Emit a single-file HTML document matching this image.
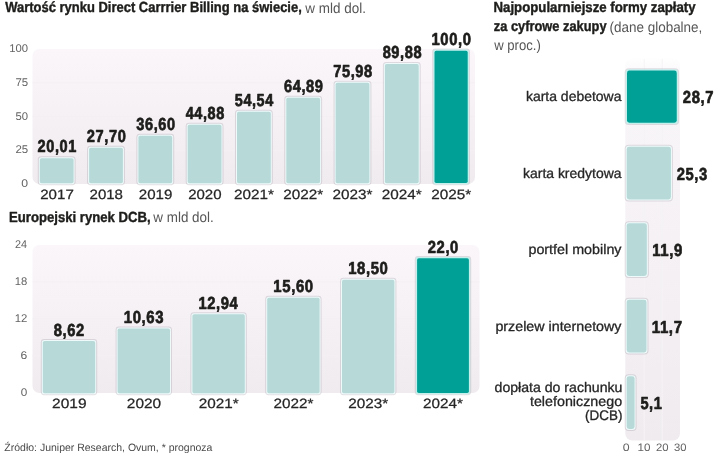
<!DOCTYPE html>
<html lang="pl"><head><meta charset="utf-8"><title>Direct Carrier Billing</title>
<style>
html,body{margin:0;padding:0;background:#fff;}
body{width:720px;height:453px;overflow:hidden;}
svg{display:block;font-family:"Liberation Sans",sans-serif;}
text{text-rendering:geometricPrecision;}
</style></head><body>
<svg width="720" height="453" viewBox="0 0 720 453">
<rect width="720" height="453" fill="#ffffff"/>
<defs><linearGradient id="g1" x1="0" y1="0" x2="0" y2="1"><stop offset="0" stop-color="#faf6fa"/><stop offset="1" stop-color="#f0ebef"/></linearGradient><linearGradient id="g3" x1="0" y1="0" x2="0" y2="1"><stop offset="0" stop-color="#ffffff"/><stop offset="0.05" stop-color="#f9f6f9"/><stop offset="1" stop-color="#f0ebef"/></linearGradient></defs>
<text transform="translate(5.17 12.20) scale(0.8891 1)" font-size="14.6" font-weight="bold" fill="#1d1d1b" stroke="#1d1d1b" stroke-width="0.4" stroke-linejoin="round">Wartość rynku Direct Carrrier Billing na świecie,</text>
<text transform="translate(305.32 12.60) scale(0.9350 1)" font-size="14.4" fill="#565656">w mld dol.</text>
<text transform="translate(9.00 221.60) scale(0.9002 1)" font-size="14.6" font-weight="bold" fill="#1d1d1b" stroke="#1d1d1b" stroke-width="0.4" stroke-linejoin="round">Europejski rynek DCB,</text>
<text transform="translate(153.32 222.00) scale(0.9319 1)" font-size="14.4" fill="#565656">w mld dol.</text>
<text transform="translate(493.50 12.20) scale(0.9062 1)" font-size="14.6" font-weight="bold" fill="#1d1d1b" stroke="#1d1d1b" stroke-width="0.4" stroke-linejoin="round">Najpopularniejsze formy zapłaty</text>
<text transform="translate(493.86 31.10) scale(0.8793 1)" font-size="14.6" font-weight="bold" fill="#1d1d1b" stroke="#1d1d1b" stroke-width="0.4" stroke-linejoin="round">za cyfrowe zakupy</text>
<text transform="translate(609.46 31.50) scale(0.9362 1)" font-size="14.4" fill="#565656">(dane globalne,</text>
<text transform="translate(494.22 50.30) scale(0.9099 1)" font-size="14.4" fill="#565656">w proc.)</text>
<rect x="32.5" y="49.0" width="442.5" height="135.0" rx="7" fill="url(#g1)"/>
<rect x="32.5" y="149.75" width="442.5" height="1" fill="#f3eff3"/>
<rect x="32.5" y="116.00" width="442.5" height="1" fill="#f3eff3"/>
<rect x="32.5" y="82.25" width="442.5" height="1" fill="#f3eff3"/>
<text transform="translate(21.37 187.00) scale(1.0927 1)" font-size="11.2" fill="#636363">0</text>
<text transform="translate(15.42 153.25) scale(1.0241 1)" font-size="11.2" fill="#636363">25</text>
<text transform="translate(15.55 119.50) scale(1.0111 1)" font-size="11.2" fill="#636363">50</text>
<text transform="translate(15.41 85.75) scale(1.0251 1)" font-size="11.2" fill="#636363">75</text>
<text transform="translate(9.29 52.00) scale(1.0088 1)" font-size="11.2" fill="#636363">100</text>
<rect x="37.80" y="156.20" width="37.80" height="29.00" rx="3.4" fill="#6e6a76" opacity="0.2"/>
<rect x="38.80" y="157.20" width="35.80" height="27.00" rx="2.5" fill="#eefafa"/>
<rect x="39.80" y="158.20" width="33.80" height="25.00" rx="1.7" fill="#b7dad9"/>
<text transform="translate(37.54 152.45) scale(0.8378 1)" font-size="17.4" font-weight="bold" fill="#1d1d1b" letter-spacing="0.7" stroke="#1d1d1b" stroke-width="0.7" stroke-linejoin="round">20,01</text>
<text transform="translate(40.23 198.57) scale(1.1167 1)" font-size="13.5" fill="#262626" stroke="#262626" stroke-width="0.25" stroke-linejoin="round">2017</text>
<rect x="87.10" y="145.84" width="37.80" height="39.36" rx="3.4" fill="#6e6a76" opacity="0.2"/>
<rect x="88.10" y="146.84" width="35.80" height="37.36" rx="2.5" fill="#eefafa"/>
<rect x="89.10" y="147.84" width="33.80" height="35.36" rx="1.7" fill="#b7dad9"/>
<text transform="translate(86.84 142.09) scale(0.8420 1)" font-size="17.4" font-weight="bold" fill="#1d1d1b" letter-spacing="0.7" stroke="#1d1d1b" stroke-width="0.7" stroke-linejoin="round">27,70</text>
<text transform="translate(89.53 198.57) scale(1.1132 1)" font-size="13.5" fill="#262626" stroke="#262626" stroke-width="0.25" stroke-linejoin="round">2018</text>
<rect x="136.40" y="133.85" width="37.80" height="51.35" rx="3.4" fill="#6e6a76" opacity="0.2"/>
<rect x="137.40" y="134.85" width="35.80" height="49.35" rx="2.5" fill="#eefafa"/>
<rect x="138.40" y="135.85" width="33.80" height="47.35" rx="1.7" fill="#b7dad9"/>
<text transform="translate(136.31 130.10) scale(0.8382 1)" font-size="17.4" font-weight="bold" fill="#1d1d1b" letter-spacing="0.7" stroke="#1d1d1b" stroke-width="0.7" stroke-linejoin="round">36,60</text>
<text transform="translate(138.83 198.57) scale(1.1152 1)" font-size="13.5" fill="#262626" stroke="#262626" stroke-width="0.25" stroke-linejoin="round">2019</text>
<rect x="185.70" y="122.70" width="37.80" height="62.50" rx="3.4" fill="#6e6a76" opacity="0.2"/>
<rect x="186.70" y="123.70" width="35.80" height="60.50" rx="2.5" fill="#eefafa"/>
<rect x="187.70" y="124.70" width="33.80" height="58.50" rx="1.7" fill="#b7dad9"/>
<text transform="translate(185.72 118.95) scale(0.8325 1)" font-size="17.4" font-weight="bold" fill="#1d1d1b" letter-spacing="0.7" stroke="#1d1d1b" stroke-width="0.7" stroke-linejoin="round">44,88</text>
<text transform="translate(188.13 198.57) scale(1.1109 1)" font-size="13.5" fill="#262626" stroke="#262626" stroke-width="0.25" stroke-linejoin="round">2020</text>
<rect x="235.00" y="109.68" width="37.80" height="75.52" rx="3.4" fill="#6e6a76" opacity="0.2"/>
<rect x="236.00" y="110.68" width="35.80" height="73.52" rx="2.5" fill="#eefafa"/>
<rect x="237.00" y="111.68" width="33.80" height="71.52" rx="1.7" fill="#b7dad9"/>
<text transform="translate(234.80 105.93) scale(0.8295 1)" font-size="17.4" font-weight="bold" fill="#1d1d1b" letter-spacing="0.7" stroke="#1d1d1b" stroke-width="0.7" stroke-linejoin="round">54,54</text>
<text transform="translate(233.97 198.57) scale(1.1314 1)" font-size="13.5" fill="#262626" stroke="#262626" stroke-width="0.25" stroke-linejoin="round">2021*</text>
<rect x="284.30" y="95.74" width="37.80" height="89.46" rx="3.4" fill="#6e6a76" opacity="0.2"/>
<rect x="285.30" y="96.74" width="35.80" height="87.46" rx="2.5" fill="#eefafa"/>
<rect x="286.30" y="97.74" width="33.80" height="85.46" rx="1.7" fill="#b7dad9"/>
<text transform="translate(284.01 91.99) scale(0.8414 1)" font-size="17.4" font-weight="bold" fill="#1d1d1b" letter-spacing="0.7" stroke="#1d1d1b" stroke-width="0.7" stroke-linejoin="round">64,89</text>
<text transform="translate(283.27 198.57) scale(1.1314 1)" font-size="13.5" fill="#262626" stroke="#262626" stroke-width="0.25" stroke-linejoin="round">2022*</text>
<rect x="333.60" y="80.80" width="37.80" height="104.40" rx="3.4" fill="#6e6a76" opacity="0.2"/>
<rect x="334.60" y="81.80" width="35.80" height="102.40" rx="2.5" fill="#eefafa"/>
<rect x="335.60" y="82.80" width="33.80" height="100.40" rx="1.7" fill="#b7dad9"/>
<text transform="translate(333.22 77.05) scale(0.8414 1)" font-size="17.4" font-weight="bold" fill="#1d1d1b" letter-spacing="0.7" stroke="#1d1d1b" stroke-width="0.7" stroke-linejoin="round">75,98</text>
<text transform="translate(332.57 198.57) scale(1.1314 1)" font-size="13.5" fill="#262626" stroke="#262626" stroke-width="0.25" stroke-linejoin="round">2023*</text>
<rect x="382.90" y="62.08" width="37.80" height="123.12" rx="3.4" fill="#6e6a76" opacity="0.2"/>
<rect x="383.90" y="63.08" width="35.80" height="121.12" rx="2.5" fill="#eefafa"/>
<rect x="384.90" y="64.08" width="33.80" height="119.12" rx="1.7" fill="#b7dad9"/>
<text transform="translate(382.68 58.33) scale(0.8378 1)" font-size="17.4" font-weight="bold" fill="#1d1d1b" letter-spacing="0.7" stroke="#1d1d1b" stroke-width="0.7" stroke-linejoin="round">89,88</text>
<text transform="translate(381.87 198.57) scale(1.1314 1)" font-size="13.5" fill="#262626" stroke="#262626" stroke-width="0.25" stroke-linejoin="round">2024*</text>
<rect x="432.20" y="48.45" width="37.80" height="136.75" rx="3.4" fill="#6e6a76" opacity="0.2"/>
<rect x="433.20" y="49.45" width="35.80" height="134.75" rx="2.5" fill="#c4f0ec"/>
<rect x="434.50" y="50.75" width="33.20" height="132.15" rx="1.7" fill="#00a096"/>
<text transform="translate(431.52 44.70) scale(0.8512 1)" font-size="17.4" font-weight="bold" fill="#1d1d1b" letter-spacing="0.7" stroke="#1d1d1b" stroke-width="0.7" stroke-linejoin="round">100,0</text>
<text transform="translate(431.17 198.57) scale(1.1314 1)" font-size="13.5" fill="#262626" stroke="#262626" stroke-width="0.25" stroke-linejoin="round">2025*</text>
<rect x="32.5" y="245.0" width="447.0" height="148.0" rx="7" fill="url(#g1)"/>
<rect x="32.5" y="355.48" width="447.0" height="1" fill="#f3eff3"/>
<rect x="32.5" y="318.46" width="447.0" height="1" fill="#f3eff3"/>
<rect x="32.5" y="281.44" width="447.0" height="1" fill="#f3eff3"/>
<text transform="translate(20.74 396.00) scale(1.0460 1)" font-size="11.2" fill="#636363">0</text>
<text transform="translate(20.58 358.98) scale(1.0836 1)" font-size="11.2" fill="#636363">6</text>
<text transform="translate(14.73 321.96) scale(1.0144 1)" font-size="11.2" fill="#636363">12</text>
<text transform="translate(14.74 284.94) scale(1.0074 1)" font-size="11.2" fill="#636363">18</text>
<text transform="translate(15.05 247.92) scale(0.9683 1)" font-size="11.2" fill="#636363">24</text>
<rect x="40.80" y="339.07" width="56.40" height="56.13" rx="3.4" fill="#6e6a76" opacity="0.2"/>
<rect x="41.80" y="340.07" width="54.40" height="54.13" rx="2.5" fill="#eefafa"/>
<rect x="42.80" y="341.07" width="52.40" height="52.13" rx="1.7" fill="#b7dad9"/>
<text transform="translate(53.83 335.82) scale(0.8471 1)" font-size="17.4" font-weight="bold" fill="#1d1d1b" letter-spacing="0.7" stroke="#1d1d1b" stroke-width="0.7" stroke-linejoin="round">8,62</text>
<text transform="translate(52.07 408.18) scale(1.1463 1)" font-size="13.5" fill="#262626" stroke="#262626" stroke-width="0.25" stroke-linejoin="round">2019</text>
<rect x="115.60" y="326.59" width="56.40" height="68.61" rx="3.4" fill="#6e6a76" opacity="0.2"/>
<rect x="116.60" y="327.59" width="54.40" height="66.61" rx="2.5" fill="#eefafa"/>
<rect x="117.60" y="328.59" width="52.40" height="64.61" rx="1.7" fill="#b7dad9"/>
<text transform="translate(123.76 323.34) scale(0.8562 1)" font-size="17.4" font-weight="bold" fill="#1d1d1b" letter-spacing="0.7" stroke="#1d1d1b" stroke-width="0.7" stroke-linejoin="round">10,63</text>
<text transform="translate(126.87 408.18) scale(1.1418 1)" font-size="13.5" fill="#262626" stroke="#262626" stroke-width="0.25" stroke-linejoin="round">2020</text>
<rect x="190.40" y="312.24" width="56.40" height="82.96" rx="3.4" fill="#6e6a76" opacity="0.2"/>
<rect x="191.40" y="313.24" width="54.40" height="80.96" rx="2.5" fill="#eefafa"/>
<rect x="192.40" y="314.24" width="52.40" height="78.96" rx="1.7" fill="#b7dad9"/>
<text transform="translate(198.57 308.99) scale(0.8462 1)" font-size="17.4" font-weight="bold" fill="#1d1d1b" letter-spacing="0.7" stroke="#1d1d1b" stroke-width="0.7" stroke-linejoin="round">12,94</text>
<text transform="translate(198.67 408.18) scale(1.1314 1)" font-size="13.5" fill="#262626" stroke="#262626" stroke-width="0.25" stroke-linejoin="round">2021*</text>
<rect x="265.20" y="295.72" width="56.40" height="99.48" rx="3.4" fill="#6e6a76" opacity="0.2"/>
<rect x="266.20" y="296.72" width="54.40" height="97.48" rx="2.5" fill="#eefafa"/>
<rect x="267.20" y="297.72" width="52.40" height="95.48" rx="1.7" fill="#b7dad9"/>
<text transform="translate(273.36 292.47) scale(0.8578 1)" font-size="17.4" font-weight="bold" fill="#1d1d1b" letter-spacing="0.7" stroke="#1d1d1b" stroke-width="0.7" stroke-linejoin="round">15,60</text>
<text transform="translate(273.47 408.18) scale(1.1314 1)" font-size="13.5" fill="#262626" stroke="#262626" stroke-width="0.25" stroke-linejoin="round">2022*</text>
<rect x="340.00" y="277.72" width="56.40" height="117.48" rx="3.4" fill="#6e6a76" opacity="0.2"/>
<rect x="341.00" y="278.72" width="54.40" height="115.48" rx="2.5" fill="#eefafa"/>
<rect x="342.00" y="279.72" width="52.40" height="113.48" rx="1.7" fill="#b7dad9"/>
<text transform="translate(348.16 274.47) scale(0.8578 1)" font-size="17.4" font-weight="bold" fill="#1d1d1b" letter-spacing="0.7" stroke="#1d1d1b" stroke-width="0.7" stroke-linejoin="round">18,50</text>
<text transform="translate(348.27 408.18) scale(1.1314 1)" font-size="13.5" fill="#262626" stroke="#262626" stroke-width="0.25" stroke-linejoin="round">2023*</text>
<rect x="414.80" y="255.98" width="56.40" height="139.22" rx="3.4" fill="#6e6a76" opacity="0.2"/>
<rect x="415.80" y="256.98" width="54.40" height="137.22" rx="2.5" fill="#c4f0ec"/>
<rect x="417.10" y="258.28" width="51.80" height="134.62" rx="1.7" fill="#00a096"/>
<text transform="translate(427.79 252.73) scale(0.8487 1)" font-size="17.4" font-weight="bold" fill="#1d1d1b" letter-spacing="0.7" stroke="#1d1d1b" stroke-width="0.7" stroke-linejoin="round">22,0</text>
<text transform="translate(423.07 408.18) scale(1.1314 1)" font-size="13.5" fill="#262626" stroke="#262626" stroke-width="0.25" stroke-linejoin="round">2024*</text>
<rect x="625.3" y="58.0" width="54.700000000000045" height="382.5" rx="7" fill="url(#g3)"/>
<rect x="643.70" y="59.0" width="1" height="381.5" fill="#f6f3f6"/>
<rect x="661.70" y="59.0" width="1" height="381.5" fill="#f6f3f6"/>
<rect x="624.70" y="68.20" width="54.36" height="56.80" rx="4.1000000000000005" fill="#6e6a76" opacity="0.2"/>
<rect x="625.70" y="69.20" width="52.36" height="54.80" rx="3.2" fill="#c4f0ec"/>
<rect x="627.00" y="70.50" width="49.76" height="52.20" rx="2.4" fill="#00a096"/>
<text transform="translate(682.84 103.35) scale(0.8499 1)" font-size="17.4" font-weight="bold" fill="#1d1d1b" letter-spacing="0.7" stroke="#1d1d1b" stroke-width="0.7" stroke-linejoin="round">28,7</text>
<text transform="translate(525.91 101.05) scale(1.0062 1)" font-size="13.9" fill="#262626" stroke="#262626" stroke-width="0.3" stroke-linejoin="round">karta debetowa</text>
<rect x="624.70" y="144.70" width="48.24" height="56.80" rx="4.1000000000000005" fill="#6e6a76" opacity="0.2"/>
<rect x="625.70" y="145.70" width="46.24" height="54.80" rx="3.2" fill="#eefafa"/>
<rect x="626.70" y="146.70" width="44.24" height="52.80" rx="2.4" fill="#b7dad9"/>
<text transform="translate(676.73 179.85) scale(0.8467 1)" font-size="17.4" font-weight="bold" fill="#1d1d1b" letter-spacing="0.7" stroke="#1d1d1b" stroke-width="0.7" stroke-linejoin="round">25,3</text>
<text transform="translate(523.01 177.55) scale(1.0043 1)" font-size="13.9" fill="#262626" stroke="#262626" stroke-width="0.3" stroke-linejoin="round">karta kredytowa</text>
<rect x="624.70" y="221.20" width="24.12" height="56.80" rx="4.1000000000000005" fill="#6e6a76" opacity="0.2"/>
<rect x="625.70" y="222.20" width="22.12" height="54.80" rx="3.2" fill="#eefafa"/>
<rect x="626.70" y="223.20" width="20.12" height="52.80" rx="2.4" fill="#b7dad9"/>
<text transform="translate(652.18 256.35) scale(0.8590 1)" font-size="17.4" font-weight="bold" fill="#1d1d1b" letter-spacing="0.7" stroke="#1d1d1b" stroke-width="0.7" stroke-linejoin="round">11,9</text>
<text transform="translate(528.43 254.05) scale(1.0304 1)" font-size="13.9" fill="#262626" stroke="#262626" stroke-width="0.3" stroke-linejoin="round">portfel mobilny</text>
<rect x="624.70" y="297.70" width="23.76" height="56.80" rx="4.1000000000000005" fill="#6e6a76" opacity="0.2"/>
<rect x="625.70" y="298.70" width="21.76" height="54.80" rx="3.2" fill="#eefafa"/>
<rect x="626.70" y="299.70" width="19.76" height="52.80" rx="2.4" fill="#b7dad9"/>
<text transform="translate(651.82 332.85) scale(0.8620 1)" font-size="17.4" font-weight="bold" fill="#1d1d1b" letter-spacing="0.7" stroke="#1d1d1b" stroke-width="0.7" stroke-linejoin="round">11,7</text>
<text transform="translate(495.43 330.55) scale(1.0269 1)" font-size="13.9" fill="#262626" stroke="#262626" stroke-width="0.3" stroke-linejoin="round">przelew internetowy</text>
<rect x="624.70" y="374.20" width="11.88" height="56.80" rx="4.1000000000000005" fill="#6e6a76" opacity="0.2"/>
<rect x="625.70" y="375.20" width="9.88" height="54.80" rx="3.2" fill="#eefafa"/>
<rect x="626.70" y="376.20" width="7.88" height="52.80" rx="2.4" fill="#b7dad9"/>
<text transform="translate(640.42 409.35) scale(0.8390 1)" font-size="17.4" font-weight="bold" fill="#1d1d1b" letter-spacing="0.7" stroke="#1d1d1b" stroke-width="0.7" stroke-linejoin="round">5,1</text>
<text transform="translate(494.56 392.05) scale(1.0155 1)" font-size="13.9" fill="#262626" stroke="#262626" stroke-width="0.3" stroke-linejoin="round">dopłata do rachunku</text>
<text transform="translate(529.94 406.25) scale(1.0286 1)" font-size="13.9" fill="#262626" stroke="#262626" stroke-width="0.3" stroke-linejoin="round">telefonicznego</text>
<text transform="translate(585.11 420.45) scale(0.9655 1)" font-size="13.9" fill="#262626" stroke="#262626" stroke-width="0.3" stroke-linejoin="round">(DCB)</text>
<text transform="translate(622.87 451.30) scale(1.1428 1)" font-size="10.8" fill="#636363">0</text>
<text transform="translate(637.61 451.30) scale(1.0772 1)" font-size="10.8" fill="#636363">10</text>
<text transform="translate(655.93 451.30) scale(1.0500 1)" font-size="10.8" fill="#636363">20</text>
<text transform="translate(674.07 451.30) scale(1.0376 1)" font-size="10.8" fill="#636363">30</text>
<text transform="translate(4.37 450.80) scale(0.9895 1)" font-size="10.6" fill="#4a4a4a">Źródło: Juniper Research, Ovum, * prognoza</text>
</svg>
</body></html>
